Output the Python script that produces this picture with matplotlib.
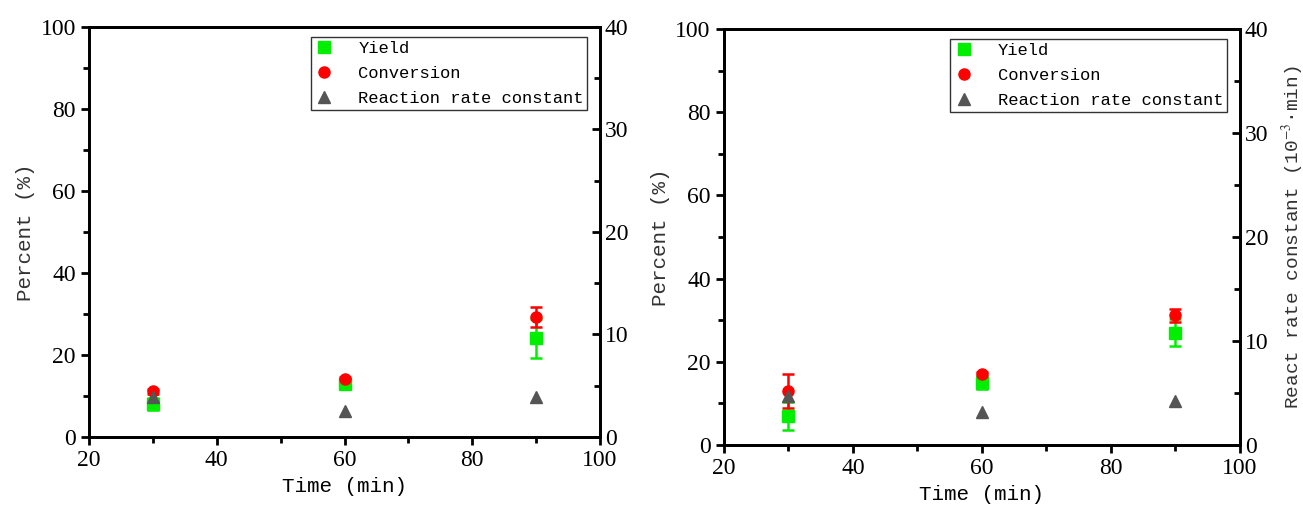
import matplotlib
matplotlib.use('Agg')
import matplotlib.pyplot as plt
from matplotlib.lines import Line2D
from matplotlib.ticker import MultipleLocator

plt.rcParams.update({
    'font.family': ['Liberation Serif', 'DejaVu Serif'],
    'mathtext.fontset': 'stix',
    'axes.linewidth': 2,
})

LABEL_FONT = ['Liberation Mono', 'DejaVu Sans Mono']
YIELD_COLOR = '#00EE00'
CONV_COLOR = '#FF0000'
RATE_COLOR = '#555555'

time = [30, 60, 90]

# left panel
yield_a = [8.0, 12.9, 24.1]
yield_a_err = [1.5, 0.6, 4.8]
conv_a = [11.2, 14.1, 29.3]
conv_a_err = [0.6, 0.6, 2.4]
rate_a = [3.9, 2.5, 3.9]

# right panel
yield_b = [7.0, 15.0, 27.0]
yield_b_err = [3.4, 1.6, 3.2]
conv_b = [13.0, 17.0, 31.2]
conv_b_err = [4.1, 0.6, 1.6]
rate_b = [4.7, 3.2, 4.2]


def panel(rect, yld, yld_err, conv, conv_err, rate, right_label=None):
    ax = fig.add_axes(rect)
    ax2 = ax.twinx()

    ax.errorbar(time, yld, yerr=yld_err, fmt='s', color=YIELD_COLOR, ms=8,
                elinewidth=1.8, capsize=4, capthick=1.8)
    ax.errorbar(time, conv, yerr=conv_err, fmt='o', color=CONV_COLOR, ms=8,
                elinewidth=1.8, capsize=4, capthick=1.8)
    ax2.plot(time, rate, '^', color=RATE_COLOR, ms=9, ls='none')

    ax.set_xlim(20, 100)
    ax.set_ylim(0, 100)
    ax2.set_ylim(0, 40)
    ax.xaxis.set_major_locator(MultipleLocator(20))
    ax.xaxis.set_minor_locator(MultipleLocator(10))
    ax.yaxis.set_major_locator(MultipleLocator(20))
    ax.yaxis.set_minor_locator(MultipleLocator(10))
    ax2.yaxis.set_major_locator(MultipleLocator(10))
    ax2.yaxis.set_minor_locator(MultipleLocator(5))

    ax.tick_params(axis='both', which='major', direction='out', length=6, width=2,
                   labelsize=17, top=False, right=False)
    ax.tick_params(axis='both', which='minor', direction='out', length=4, width=2,
                   top=False, right=False)
    ax2.tick_params(axis='y', which='major', direction='in', length=6, width=2,
                    labelsize=17)
    ax2.tick_params(axis='y', which='minor', direction='in', length=4, width=2)

    ax.set_xlabel('Time (min)', family=LABEL_FONT, fontsize=15, labelpad=4)
    ax.set_ylabel('Percent (%)', family=LABEL_FONT, fontsize=15, color='#333333')
    if right_label:
        ax2.set_ylabel(right_label, family=LABEL_FONT, fontsize=14, color='#333333',
                       labelpad=8)

    handles = [
        Line2D([], [], marker='s', color=YIELD_COLOR, ls='none', ms=8),
        Line2D([], [], marker='o', color=CONV_COLOR, ls='none', ms=8),
        Line2D([], [], marker='^', color=RATE_COLOR, ls='none', ms=9),
    ]
    leg = ax2.legend(handles, ['Yield', 'Conversion', 'Reaction rate constant'],
                     loc='upper right', bbox_to_anchor=(0.975, 0.975),
                     prop={'family': LABEL_FONT, 'size': 12.3},
                     frameon=True, fancybox=False, edgecolor='#333333',
                     framealpha=1, borderpad=0.2, handletextpad=1.4,
                     labelspacing=0.6, handlelength=1.2, borderaxespad=0)
    leg.get_frame().set_linewidth(1)
    return ax


fig = plt.figure(figsize=(13.03, 5.14), dpi=100)

panel([0.0683, 0.1498, 0.3922, 0.7977], yield_a, yield_a_err, conv_a, conv_a_err, rate_a)
panel([0.5556, 0.1342, 0.3960, 0.8094], yield_b, yield_b_err, conv_b, conv_b_err, rate_b,
      right_label='React rate constant (10$^{-3}$\u00b7min)')

fig.savefig('out.png', dpi=100)
